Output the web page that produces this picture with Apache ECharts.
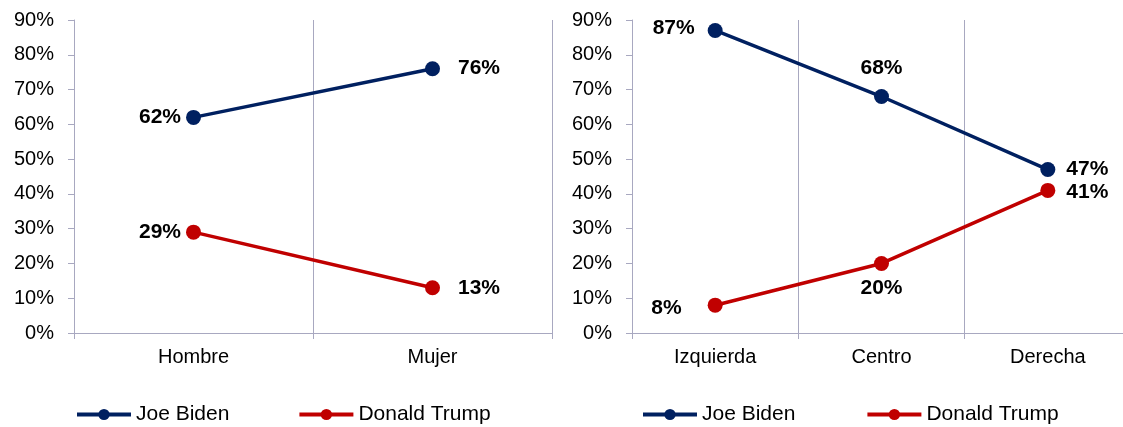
<!DOCTYPE html>
<html>
<head>
<meta charset="utf-8">
<script src="https://cdn.jsdelivr.net/npm/echarts@6/dist/echarts.min.js"></script>
<style>
  html, body { margin: 0; padding: 0; background: #fff; overflow: hidden; }
  #chart { width: 1131px; height: 427px; }
</style>
</head>
<body>
<div id="chart"></div>
<script>
// Vote share by gender and by ideology
const genderCategories = ['Hombre', 'Mujer'];
const genderBiden = [62, 76];
const genderTrump = [29, 13];

const ideologyCategories = ['Izquierda', 'Centro', 'Derecha'];
const ideologyBiden = [87, 68, 47];
const ideologyTrump = [8, 20, 41];

const yTicks = [0, 10, 20, 30, 40, 50, 60, 70, 80, 90];

const BIDEN = '#002060';
const TRUMP = '#C00000';
const AXIS = '#A8A8C0';
const FONT = '"Liberation Sans", Arial, sans-serif';

const chart = echarts.init(document.getElementById('chart'));

function withLabels(values, positions, offsets) {
  return values.map((v, i) => ({
    value: v,
    label: { position: positions[i], offset: offsets[i] }
  }));
}

function xAxis(gridIndex, cats) {
  return {
    type: 'category', gridIndex, data: cats, boundaryGap: true,
    axisLine: { lineStyle: { color: AXIS, width: 1 } },
    axisTick: { show: true, length: 6, lineStyle: { color: AXIS } },
    splitLine: { show: true, lineStyle: { color: AXIS, width: 1 } },
    axisLabel: { color: '#000', fontSize: 20, fontFamily: FONT, margin: 14 }
  };
}

function yAxis(gridIndex) {
  return {
    type: 'value', gridIndex, min: yTicks[0], max: yTicks[yTicks.length - 1], interval: 10,
    axisLine: { show: true, lineStyle: { color: AXIS, width: 1 } },
    axisTick: { show: true, length: 6, lineStyle: { color: AXIS } },
    splitLine: { show: false },
    axisLabel: { color: '#000', fontSize: 20, fontFamily: FONT, margin: 20, formatter: '{value}%' }
  };
}

function lineSeries(name, color, xi, data) {
  return {
    name, type: 'line', xAxisIndex: xi, yAxisIndex: xi, data,
    symbol: 'circle', symbolSize: 15,
    lineStyle: { color, width: 3.5 },
    itemStyle: { color },
    label: {
      show: true, formatter: '{c}%', color: '#000', fontSize: 21,
      fontWeight: 'bold', fontFamily: FONT, distance: 5
    },
    animation: false
  };
}

function legend(left, gap) {
  return {
    left, top: 399, itemWidth: 54, itemHeight: 14, itemGap: gap,
    data: ['Joe Biden', 'Donald Trump'],
    lineStyle: { width: 4 },
    textStyle: { color: '#000', fontSize: 21, fontFamily: FONT, padding: [0, 0, 0, 0] }
  };
}

chart.setOption({
  animation: false,
  grid: [
    { left: 74, width: 478, top: 20, bottom: 94 },
    { left: 632, right: 0, top: 20, bottom: 94 }
  ],
  xAxis: [xAxis(0, genderCategories), xAxis(1, ideologyCategories)],
  yAxis: [yAxis(0), yAxis(1)],
  legend: [legend(70, 68), legend(636, 70)],
  series: [
    lineSeries('Joe Biden', BIDEN, 0, withLabels(genderBiden, ['left', 'right'], [[0, 0], [13, 0]])),
    lineSeries('Donald Trump', TRUMP, 0, withLabels(genderTrump, ['left', 'right'], [[0, 0], [13, 0]])),
    lineSeries('Joe Biden', BIDEN, 1, withLabels(ideologyBiden, ['left', 'top', 'right'], [[-8, -2], [0, -5], [6, 0]])),
    lineSeries('Donald Trump', TRUMP, 1, withLabels(ideologyTrump, ['left', 'bottom', 'right'], [[-21, 3], [0, 2], [6, 2]]))
  ]
});
</script>
</body>
</html>
